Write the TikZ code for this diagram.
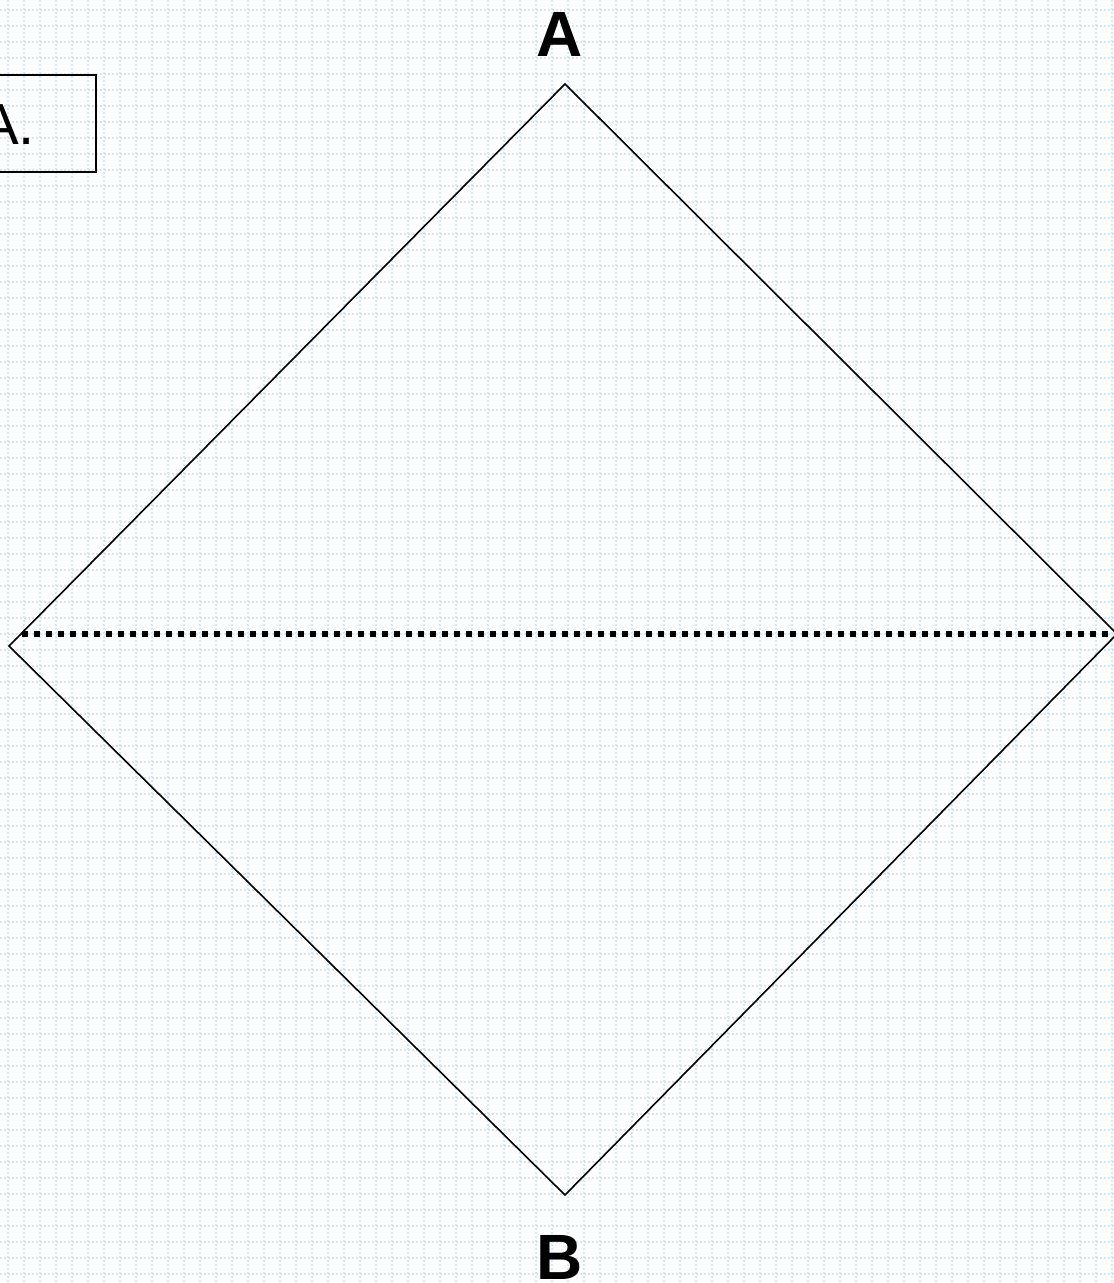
\documentclass[tikz,border=0pt]{standalone}
\usepackage{fontspec}
\setmainfont{Liberation Sans}
\definecolor{gridblue}{RGB}{204,232,250}
\begin{document}
\begin{tikzpicture}[x=1pt,y=-1pt,
  gridline/.style={gridblue,line width=2pt,dash pattern=on 2pt off 2pt},
  edge/.style={black,line width=1.6pt},
  midline/.style={black,line width=5.5pt,dash pattern=on 5.5pt off 6.5pt},
  vlabel/.style={font=\fontsize{64}{64}\selectfont\bfseries,inner sep=0pt},
  tagbox/.style={draw,line width=1.8pt,inner sep=0pt}]
\useasboundingbox (0,0) rectangle (1114,1283);
\clip (0,0) rectangle (1114,1283);
\fill[white] (0,0) rectangle (1114,1283);
\foreach \i in {0,...,69} { \draw[gridline] (8+16*\i,0) -- (8+16*\i,1283); }
\foreach \j in {0,...,80} { \draw[gridline] (0,10+16*\j) -- (1114,10+16*\j); }
% diamond vertices
\coordinate (top) at (565,84);
\coordinate (left) at (9,646);
\coordinate (bottom) at (565,1195);
\coordinate (right) at (1117,634);
\coordinate (ml) at (22,634);
\coordinate (mr) at (1114,634);
\draw[edge,line join=miter] (top) -- (right) -- (bottom) -- (left) -- cycle;
\draw[midline] (ml) -- (mr);
\node[vlabel] (la) at (560,34) {A};
\node[vlabel] (lb) at (560,1257) {B};
\node[tagbox,minimum width=177,minimum height=97,anchor=north east] (tag) at (97,74) {};
\node[font=\fontsize{58}{58}\selectfont,anchor=base east,inner sep=0pt] (tagtext) at (35,144) {A.};
\end{tikzpicture}
\end{document}
